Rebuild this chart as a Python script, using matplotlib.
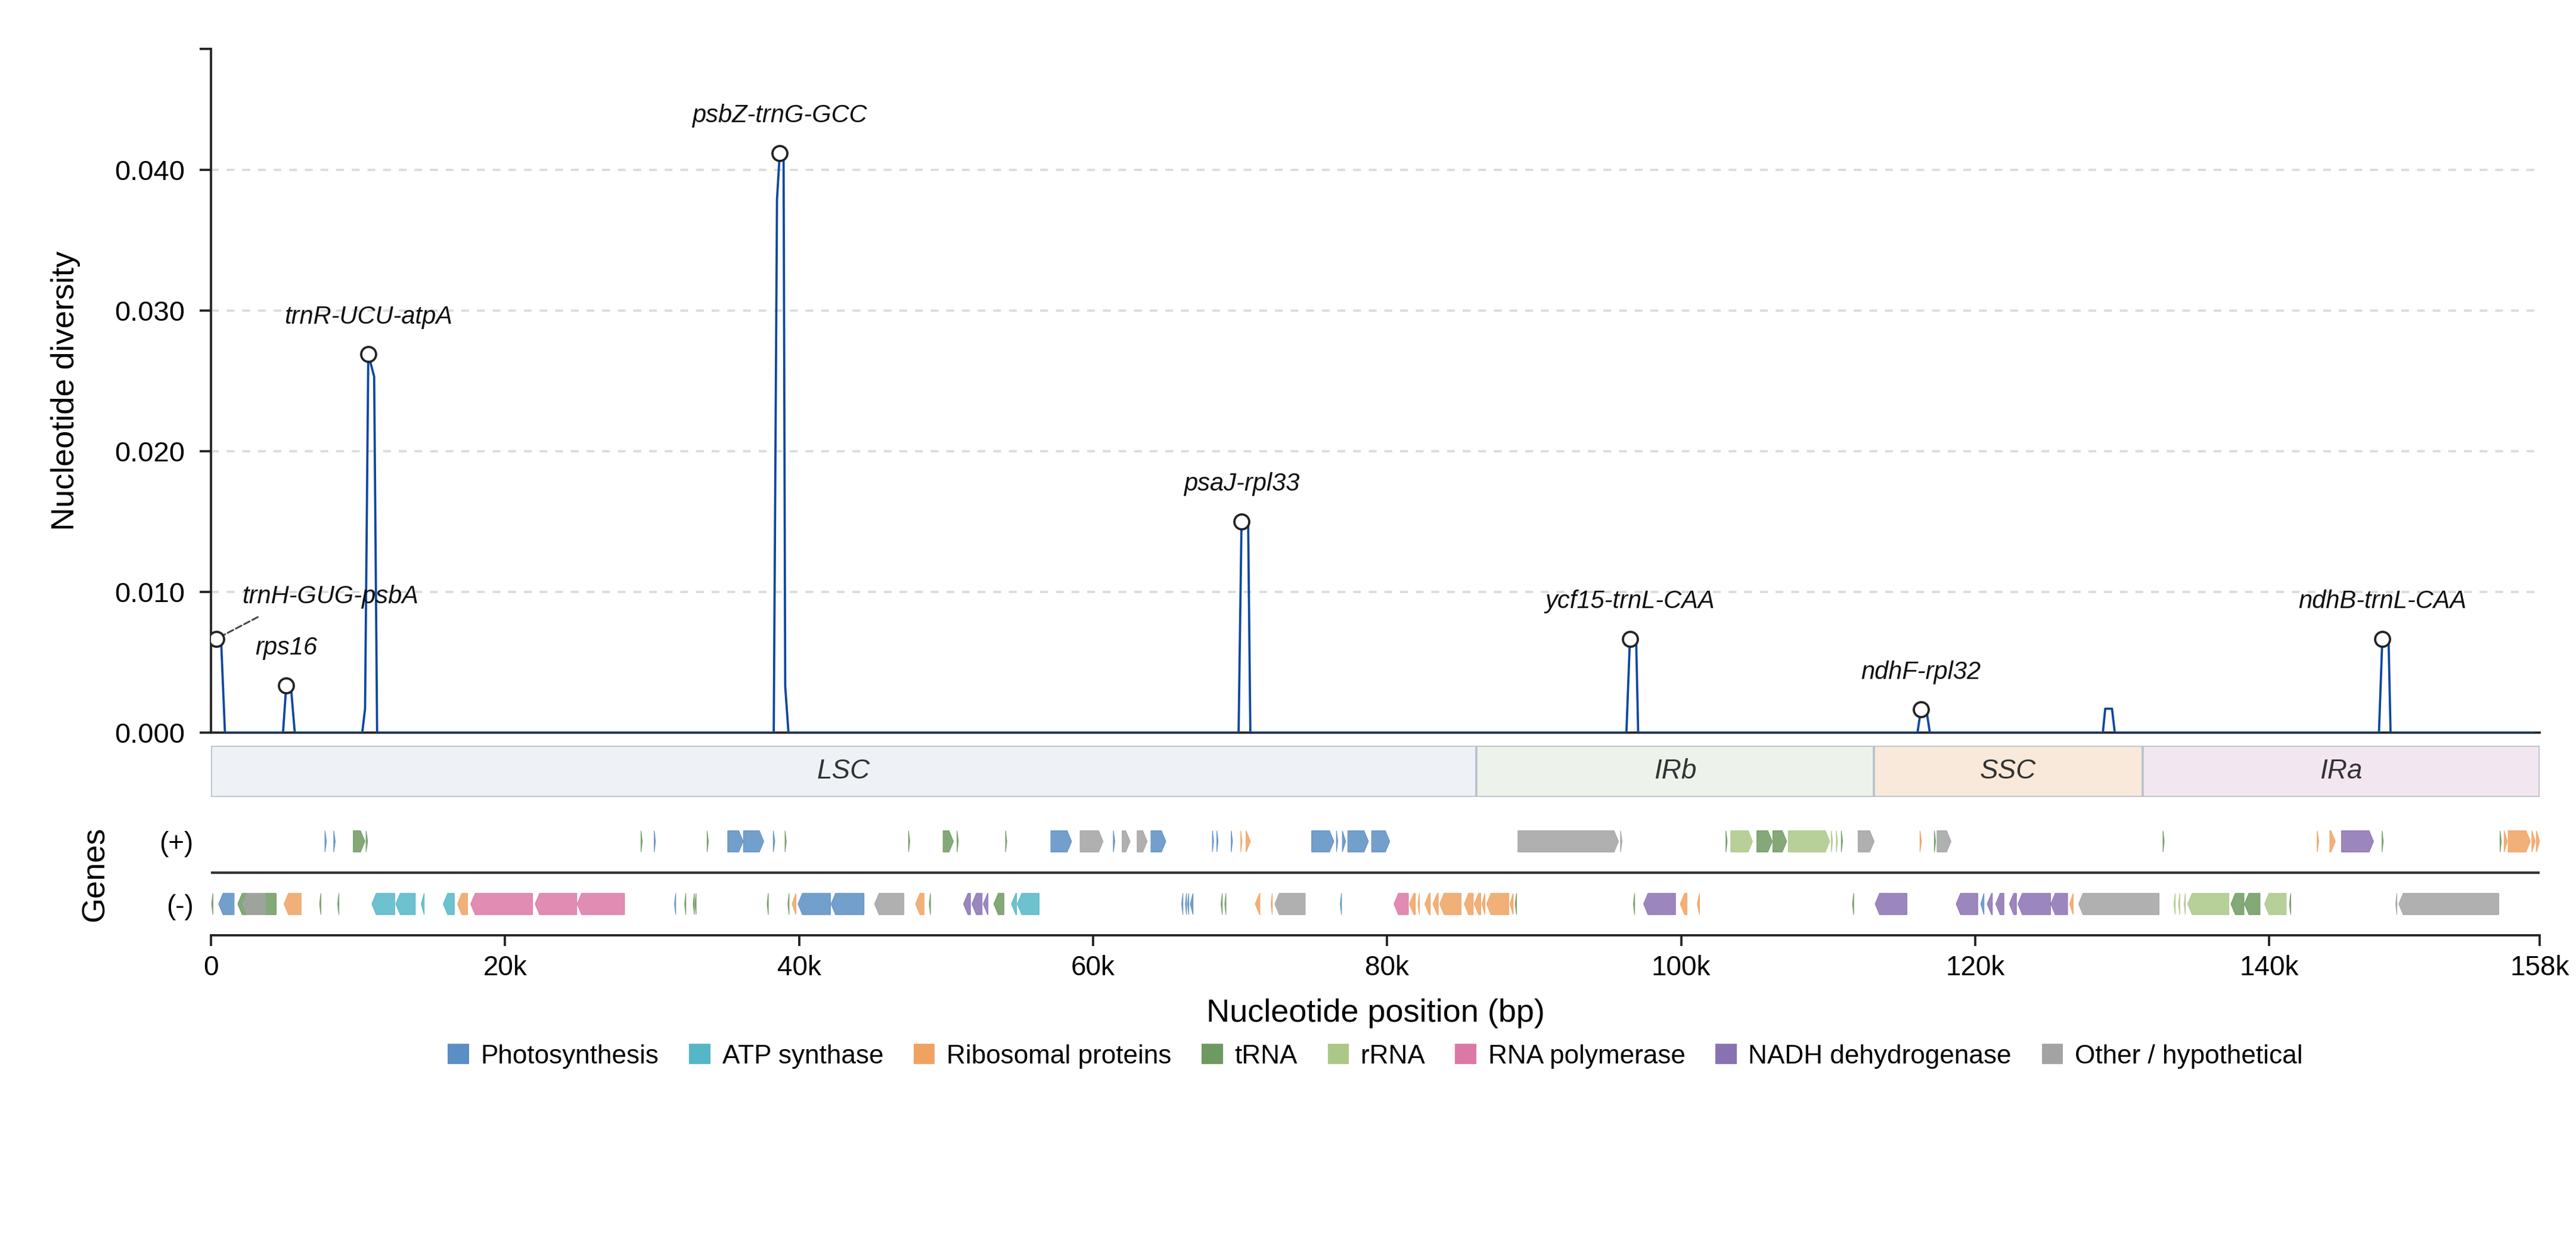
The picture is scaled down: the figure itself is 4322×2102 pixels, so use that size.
import numpy as np
import matplotlib
matplotlib.use('Agg')
import matplotlib.pyplot as plt
from matplotlib.patches import Polygon, Rectangle, Patch

plt.rcParams['font.family'] = ['Liberation Sans', 'DejaVu Sans']

# sliding-window nucleotide diversity (bp, Pi) - only the non-flat points
pos = [350, 690, 950, 4900, 5120, 5450, 5700,
       10290, 10480, 10700, 11100, 11300,
       38280, 38500, 38690, 38950, 39060, 39280,
       69900, 70100, 70550, 70700,
       96280, 96520, 96950, 97080,
       116080, 116310, 116710, 116920,
       128690, 128850, 129310, 129500,
       147470, 147700, 148130, 148260, 158000]
pi = [0.00666, 0.0065, 0.0, 0.0, 0.00335, 0.0031, 0.0,
      0.0, 0.0017, 0.0269, 0.0253, 0.0,
      0.0, 0.0379, 0.0412, 0.0407, 0.0033, 0.0,
      0.0, 0.0150, 0.0148, 0.0,
      0.0, 0.00667, 0.0063, 0.0,
      0.0, 0.00165, 0.00144, 0.0,
      0.0, 0.0017, 0.0017, 0.0,
      0.0, 0.00667, 0.0063, 0.0, 0.0]

peak_pos = [350, 5120, 10700, 38690, 70100, 96520, 116310, 147700]
peak_labels = ['trnH-GUG-psbA', 'rps16', 'trnR-UCU-atpA', 'psbZ-trnG-GCC',
               'psaJ-rpl33', 'ycf15-trnL-CAA', 'ndhF-rpl32', 'ndhB-trnL-CAA']

genome_len = 158400
region_names = ['LSC', 'IRb', 'SSC', 'IRa']
region_start = [0, 86080, 113100, 131400]
region_end = [86080, 113100, 131400, 158400]
region_colors = ['#EEF2F6', '#EDF3EA', '#F8E9DB', '#F2E7F1']

cat_names = ['photo', 'atp', 'ribo', 'trna', 'rrna', 'rpo', 'ndh', 'other']
cat_labels = ['Photosynthesis', 'ATP synthase', 'Ribosomal proteins', 'tRNA', 'rRNA',
              'RNA polymerase', 'NADH dehydrogenase', 'Other / hypothetical']
cat_colors = ['#5B8EC4', '#55B6C6', '#F0A262', '#6E9960', '#ABC887',
              '#DC78A5', '#8A72B2', '#A3A3A3']

# genes on the (+) strand, kb
plus_start = [7.75, 8.35, 9.68, 10.55, 29.25, 30.15, 33.75, 35.15, 36.22, 38.25,
              39.05, 47.45, 49.8, 50.75, 54.05, 57.13, 59.12, 61.38, 61.98, 63.0,
              63.94, 68.12, 68.42, 69.4, 70.05, 70.41, 74.87, 76.56, 76.96, 77.33,
              78.95, 88.9, 95.88, 103.05, 103.38, 105.15, 106.24, 107.29, 110.22, 110.56,
              110.9, 112.04, 116.25, 117.23, 117.41, 132.78, 143.27, 144.13, 144.92, 147.68,
              155.71, 155.99, 156.26, 157.87, 158.18]
plus_end = [7.85, 8.45, 10.47, 10.65, 29.33, 30.23, 33.83, 36.2, 37.6, 38.35,
            39.13, 47.53, 50.5, 50.83, 54.13, 58.54, 60.68, 61.48, 62.52, 63.68,
            64.95, 68.2, 68.5, 69.48, 70.13, 70.7, 76.38, 76.64, 77.18, 78.73,
            80.18, 95.74, 95.98, 103.13, 104.86, 106.2, 107.18, 110.11, 110.3, 110.64,
            110.98, 113.13, 116.35, 117.31, 118.36, 132.86, 143.37, 144.5, 147.1, 147.76,
            155.79, 156.2, 157.77, 158.1, 158.4]
plus_cat = ['photo', 'photo', 'trna', 'trna', 'trna', 'photo', 'trna', 'photo', 'photo', 'photo',
            'trna', 'trna', 'trna', 'trna', 'trna', 'photo', 'other', 'photo', 'other', 'other',
            'photo', 'photo', 'photo', 'photo', 'ribo', 'ribo', 'photo', 'photo', 'photo', 'photo',
            'photo', 'other', 'other', 'trna', 'rrna', 'trna', 'trna', 'rrna', 'rrna', 'rrna',
            'trna', 'other', 'ribo', 'trna', 'other', 'trna', 'ribo', 'ribo', 'ndh', 'trna',
            'trna', 'ribo', 'ribo', 'ribo', 'ribo']

# genes on the (-) strand, kb
minus_start = [0.05, 0.52, 1.82, 2.15, 4.97, 7.39, 8.62, 10.94, 12.57, 14.3,
               15.8, 16.77, 17.67, 22.05, 24.91, 31.53, 32.22, 32.8, 32.92, 37.83,
               39.24, 39.53, 39.93, 42.18, 45.14, 47.93, 48.86, 51.19, 51.76, 52.53,
               53.25, 54.45, 54.85, 66.03, 66.28, 66.43, 66.61, 68.71, 68.96, 71.03,
               72.11, 72.37, 76.82, 80.47, 81.52, 82.1, 82.57, 83.12, 83.58, 85.25,
               85.93, 86.45, 86.77, 88.36, 88.72, 96.76, 97.45, 99.94, 101.1, 111.66,
               113.2, 118.71, 120.39, 120.82, 121.4, 122.33, 122.91, 125.15, 126.43, 127.04,
               133.53, 133.84, 134.22, 134.46, 137.4, 138.32, 139.69, 141.39, 148.61, 148.82]
minus_end = [0.13, 1.57, 4.43, 3.7, 6.13, 7.47, 8.7, 12.5, 13.9, 14.5,
             16.55, 17.45, 21.87, 24.88, 28.13, 31.61, 32.3, 32.88, 33.0, 37.91,
             39.32, 39.79, 42.14, 44.42, 47.13, 48.5, 48.94, 51.66, 52.45, 52.85,
             53.94, 54.8, 56.33, 66.11, 66.36, 66.51, 66.8, 68.79, 69.04, 71.35,
             72.19, 74.43, 76.9, 81.45, 81.92, 82.2, 82.94, 83.48, 85.03, 85.86,
             86.37, 86.66, 88.28, 88.58, 88.8, 96.84, 99.62, 100.4, 101.25, 111.74,
             115.36, 120.18, 120.6, 121.17, 121.96, 122.81, 125.13, 126.29, 126.67, 132.51,
             133.61, 133.92, 134.3, 137.26, 138.29, 139.38, 141.16, 141.47, 148.69, 155.62]
minus_cat = ['trna', 'photo', 'trna', 'other', 'ribo', 'trna', 'trna', 'atp', 'atp', 'atp',
             'atp', 'ribo', 'rpo', 'rpo', 'rpo', 'photo', 'trna', 'trna', 'trna', 'trna',
             'trna', 'ribo', 'photo', 'photo', 'other', 'ribo', 'trna', 'ndh', 'ndh', 'ndh',
             'trna', 'atp', 'atp', 'photo', 'photo', 'photo', 'photo', 'trna', 'trna', 'ribo',
             'ribo', 'other', 'photo', 'rpo', 'ribo', 'ribo', 'ribo', 'ribo', 'ribo', 'ribo',
             'ribo', 'ribo', 'ribo', 'ribo', 'trna', 'trna', 'ndh', 'ribo', 'ribo', 'trna',
             'ndh', 'ndh', 'photo', 'ndh', 'ndh', 'ndh', 'ndh', 'ndh', 'ribo', 'other',
             'rrna', 'rrna', 'rrna', 'rrna', 'trna', 'trna', 'rrna', 'trna', 'other', 'other']

color_of = dict(zip(cat_names, cat_colors))

W, H = 4322, 2102
fig = plt.figure(figsize=(W / 300, H / 300), dpi=300)


def box(l, t, r, b):
    return [l / W, 1 - b / H, (r - l) / W, (b - t) / H]


ax = fig.add_axes(box(354, 82, 4261, 1229))
axr = fig.add_axes(box(354, 1251, 4261, 1337))
axg = fig.add_axes(box(354, 1359, 4261, 1569))

# ---- diversity panel
ymax = 0.0486
ax.plot(pos, pi, color='#0D47A1', lw=0.9, zorder=3)
peak_val = np.interp(peak_pos, pos, pi)
ax.plot(peak_pos, peak_val, 'o', ms=6, mfc='white', mec='#222222', mew=0.9, zorder=4)
for x, y, lab in zip(peak_pos, peak_val, peak_labels):
    if lab == 'trnH-GUG-psbA':
        ax.annotate(lab, (x, y), xytext=(46, 17), textcoords='offset points',
                    ha='center', va='center', fontsize=10, style='italic', color='#111111',
                    arrowprops=dict(arrowstyle='-', ls='--', lw=0.7, color='#444444',
                                    relpos=(0.18, 0.0), shrinkA=3, shrinkB=3))
    else:
        ax.annotate(lab, (x, y), xytext=(0, 15), textcoords='offset points',
                    ha='center', va='center', fontsize=10, style='italic', color='#111111')

ax.set_xlim(0, genome_len)
ax.set_ylim(0, ymax)
ax.set_yticks([0, 0.01, 0.02, 0.03, 0.04])
ax.set_yticklabels(['%.3f' % v for v in [0, 0.01, 0.02, 0.03, 0.04]])
ax.set_yticks([ymax], minor=True)
ax.set_xticks([])
ax.grid(axis='y', color='#D6DCE2', lw=0.9, ls=(0, (3.5, 3.5)))
ax.set_axisbelow(True)
for s in ['top', 'right']:
    ax.spines[s].set_visible(False)
for s in ['left', 'bottom']:
    ax.spines[s].set_linewidth(0.9)
    ax.spines[s].set_color('#222222')
ax.tick_params(axis='y', which='both', length=4.5, width=0.9, color='#222222',
               labelsize=11.3, pad=6)

# ---- region bar
for name, s, e, c in zip(region_names, region_start, region_end, region_colors):
    axr.add_patch(Rectangle((s, 0), e - s, 1, facecolor=c, edgecolor='#B9C3CC', lw=0.9))
    axr.text((s + e) / 2, 0.5, name, ha='center', va='center', fontsize=11,
             style='italic', color='#333333')
axr.set_xlim(0, genome_len)
axr.set_ylim(0, 1)
axr.axis('off')

# ---- gene tracks
head = 300
hh = 0.17


def gene_shape(s, e, y, strand):
    h = min(head, e - s)
    if strand > 0:
        pts = [(s, y - hh), (e - h, y - hh), (e, y), (e - h, y + hh), (s, y + hh)]
    else:
        pts = [(e, y - hh), (s + h, y - hh), (s, y), (s + h, y + hh), (e, y + hh)]
    return pts


for s, e, c in zip(plus_start, plus_end, plus_cat):
    axg.add_patch(Polygon(gene_shape(s * 1000, e * 1000, 1, 1), closed=True,
                          facecolor=color_of[c], edgecolor=color_of[c], alpha=0.85, lw=0.3))
for s, e, c in zip(minus_start, minus_end, minus_cat):
    axg.add_patch(Polygon(gene_shape(s * 1000, e * 1000, 0, -1), closed=True,
                          facecolor=color_of[c], edgecolor=color_of[c], alpha=0.85, lw=0.3))

axg.axhline(0.5, color='#333333', lw=1.0)
axg.set_xlim(0, genome_len)
axg.set_ylim(-0.5, 1.5)
axg.set_yticks([1, 0])
axg.set_yticklabels(['(+)', '(-)'])
xt = [0, 20000, 40000, 60000, 80000, 100000, 120000, 140000, genome_len]
axg.set_xticks(xt)
axg.set_xticklabels(['0', '20k', '40k', '60k', '80k', '100k', '120k', '140k', '158k'])
for s in ['top', 'right', 'left']:
    axg.spines[s].set_visible(False)
axg.spines['bottom'].set_linewidth(0.9)
axg.spines['bottom'].set_color('#222222')
axg.tick_params(axis='y', length=0, labelsize=11, pad=7)
axg.tick_params(axis='x', length=4.3, width=0.9, color='#222222', labelsize=11)
axg.set_xlabel('Nucleotide position (bp)', fontsize=13, labelpad=7)

fig.text(110 / W, 1 - 655 / H, 'Nucleotide diversity', rotation=90,
         ha='center', va='center', fontsize=13)
fig.text(160 / W, 1 - 1466 / H, 'Genes', rotation=90, ha='center', va='center', fontsize=13)

handles = [Patch(facecolor=c, edgecolor='none') for c in cat_colors]
fig.legend(handles, cat_labels, loc='center', bbox_to_anchor=((354 + 4261) / 2 / W, 1 - 1772 / H),
           ncol=8, frameon=False, fontsize=10.6, handlelength=0.8, handleheight=0.8,
           handletextpad=0.45, columnspacing=1.15)

fig.savefig('out.png', dpi=300)
